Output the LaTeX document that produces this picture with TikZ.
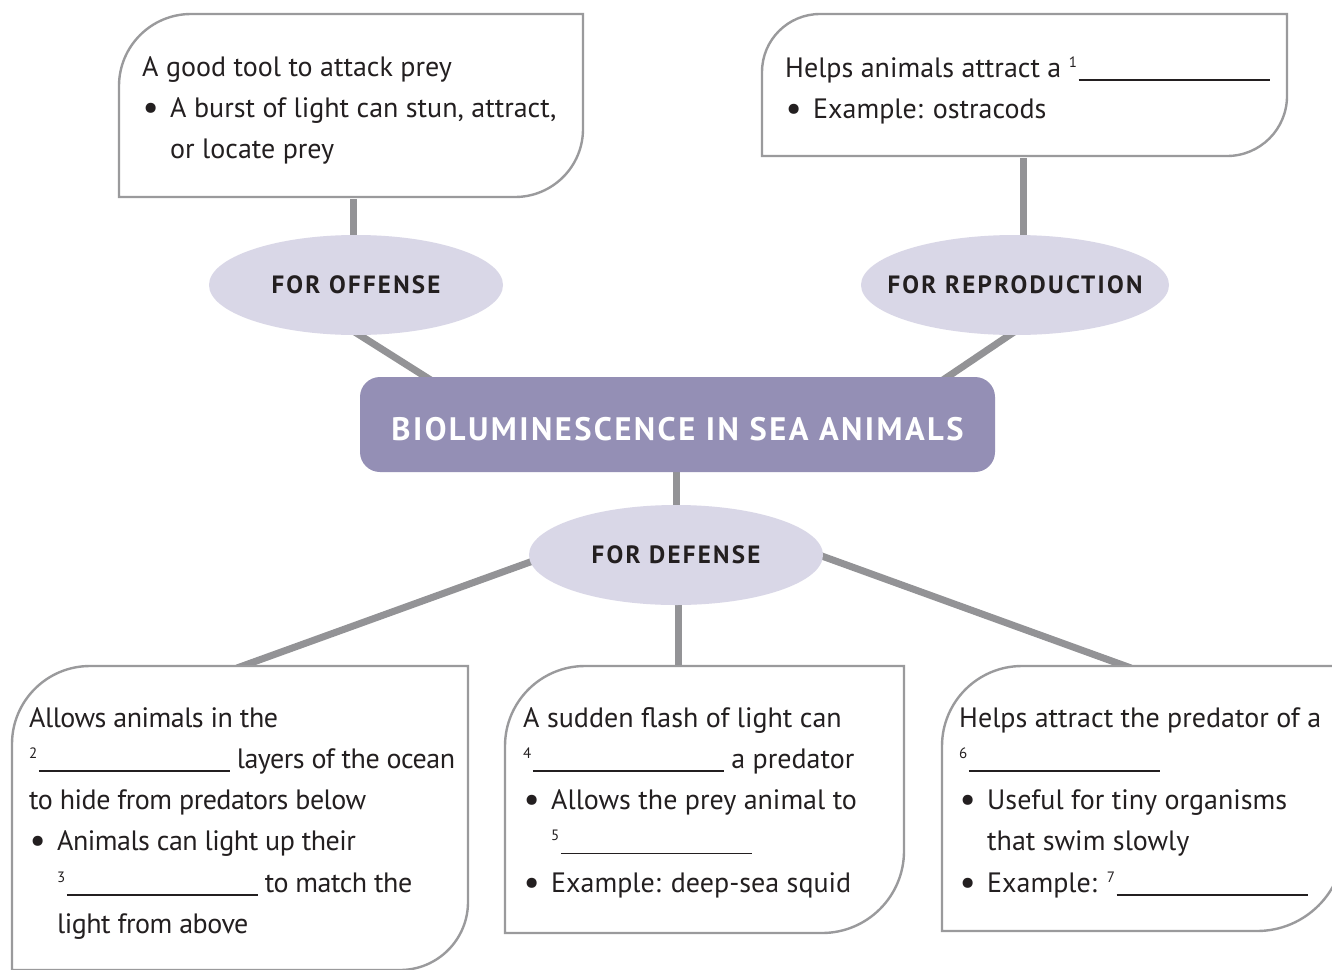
\documentclass[tikz,border=0pt]{standalone}
\usepackage{fontspec}
\setmainfont{PT Sans}
\newfontfamily\lblfont[LetterSpace=9.0]{PT Sans}
\newfontfamily\ttlfont[LetterSpace=7.5]{PT Sans}
\newfontfamily\condfont[LetterSpace=-1.8]{PT Sans}
\usetikzlibrary{shapes.geometric,backgrounds,calc}
\definecolor{txt}{HTML}{231F20}
\definecolor{connc}{HTML}{939396}
\definecolor{bord}{HTML}{9A9A9C}
\definecolor{purp}{HTML}{948FB5}
\definecolor{lav}{HTML}{D9D7E7}
\newcommand{\blank}[1]{{\fontsize{15}{15}\selectfont\raisebox{10pt}{#1}}\hspace{1.5pt}\rule[-3.5pt]{191pt}{1.8pt}}
\newcommand{\bul}{\makebox[28pt][l]{\hspace{0.5pt}\raisebox{-1.8pt}{\fontsize{36}{36}\selectfont\textbullet}}}
\newcommand{\ind}{\hspace*{28pt}}
\newcommand{\calloutbox}[6]{%
  \draw[boxline] (#1,#4) -- (#1,#2+#5) .. controls (#1,#2+0.4477*#5) and (#1+0.4477*#5,#2) .. (#1+#5,#2)
    -- (#3,#2) -- (#3,#4-#6) .. controls (#3,#4-0.4477*#6) and (#3-0.4477*#6,#4) .. (#3-#6,#4) -- cycle;}
\tikzset{
  boxline/.style={draw=bord, line width=2.4pt, fill=white},
  conn/.style={draw=connc, line width=7pt},
  ell/.style={ellipse, fill=lav, draw=none, inner sep=0pt, text=txt,
    font=\lblfont\bfseries\fontsize{25}{25}\selectfont},
  titlebox/.style={rectangle, rounded corners=20pt, fill=purp, draw=none, inner sep=0pt,
    minimum width=635pt, minimum height=95pt, text=white, text height=31pt, text depth=0pt,
    font=\ttlfont\bfseries\fontsize{32.5}{32.5}\selectfont},
  txtnode/.style={inner sep=0pt, anchor=base west, text=txt,
    font=\fontsize{28}{41.3}\selectfont}
}
\begin{document}
\begin{tikzpicture}[x=1pt,y=-1pt]
\useasboundingbox (0,0) rectangle (1332,969);
\clip (0,0) rectangle (1332,969);
% central and branch nodes
\node[titlebox] (bio) at (677.5,424.5) {BIOLUMINESCENCE IN SEA ANIMALS};
\node[ell, minimum width=294pt, minimum height=100pt] (off) at (356,285) {\makebox[0pt][c]{FOR OFFENSE}};
\node[ell, minimum width=308pt, minimum height=100pt] (rep) at (1015,285) {\makebox[0pt][c]{FOR REPRODUCTION}};
\node[ell, minimum width=294pt, minimum height=100pt] (def) at (676,555) {\makebox[0pt][c]{FOR DEFENSE}};
% attachment points on the callout boxes
\coordinate (tlb) at (353,199);
\coordinate (trb) at (1023,158);
\coordinate (blt) at (237,668);
\coordinate (bmt) at (678,668);
\coordinate (brt) at (1131,668);
\begin{scope}[on background layer]
  \fill[white] (0,0) rectangle (1332,969);
  \draw[conn] (tlb) -- (tlb |- off.north);
  \draw[conn] (trb) -- (trb |- rep.north);
  \draw[conn] ([shift={(-6,44)}]off.center) -- ([shift={(-240.5,-40.5)}]bio.center);
  \draw[conn] ([shift={(5,43)}]rep.center) -- ([shift={(259.5,-40.5)}]bio.center);
  \draw[conn] (bio.south -| def.north) -- (def.north);
  \draw[conn] ([shift={(-132,2)}]def.center) -- (blt);
  \draw[conn] (def.south -| bmt) -- (bmt);
  \draw[conn] ([shift={(132,-4)}]def.center) -- (brt);
\end{scope}
% callout boxes
\calloutbox{119}{14}{583}{197}{72}{68}
\calloutbox{762}{14}{1287}{156}{58}{60}
\calloutbox{12}{666}{468}{970}{78}{68}
\calloutbox{505}{666}{904}{933}{80}{82}
\calloutbox{942}{666}{1344}{931}{80}{87}
% texts
\node[txtnode] (tltext) at (142,76) {\parbox[t]{460pt}{%
A good tool to attack prey\\
\bul A burst of light can stun, attract,\\
\ind or locate prey}};
\node[txtnode] (trtext) at (785,77) {\parbox[t]{520pt}{%
Helps animals attract a \blank{1}\\
\bul Example: ostracods}};
\node[txtnode, font=\condfont\fontsize{28}{41.3}\selectfont] (bltext) at (29,727) {\parbox[t]{450pt}{%
Allows animals in the\\
\blank{2} layers of the ocean\\
to hide from predators below\\
\bul Animals can light up their\\
\ind\blank{3} to match the\\
\ind light from above}};
\node[txtnode] (bmtext) at (523,727) {\parbox[t]{400pt}{%
A sudden flash of light can\\
\blank{4} a predator\\
\bul Allows the prey animal to\\
\ind\blank{5}\\
\bul Example: deep-sea squid}};
\node[txtnode] (brtext) at (959,727) {\parbox[t]{400pt}{%
Helps attract the predator of a\\
\blank{6}\\
\bul Useful for tiny organisms\\
\ind that swim slowly\\
\bul Example: \blank{7}}};
\end{tikzpicture}
\end{document}
